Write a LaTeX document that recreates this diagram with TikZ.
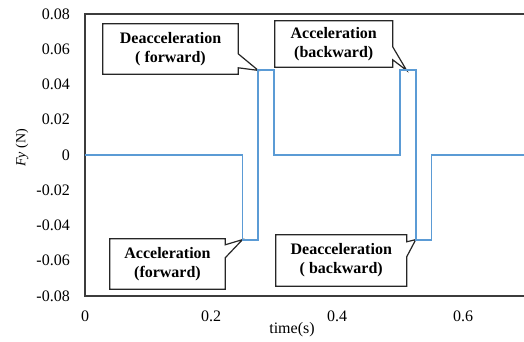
\documentclass[tikz,border=0pt]{standalone}
\usepackage{fontspec}
\setmainfont{Liberation Serif}
\usetikzlibrary{calc}
\pgfdeclarelayer{bg}
\pgfsetlayers{bg,main}
\definecolor{sig}{RGB}{91,155,213}
\definecolor{framecol}{RGB}{60,60,60}
\begin{document}
\begin{tikzpicture}[x=1pt,y=-1pt,
  ticklab/.style={font=\fontsize{16}{19}\selectfont, inner sep=0pt},
  calltext/.style={font=\fontsize{16}{19}\selectfont\bfseries, align=center, inner sep=0pt},
  callout/.style={draw=black!85, line width=1.2pt, fill=white, line join=miter},
  signal/.style={draw=sig, line width=1.8pt},
  axisline/.style={draw=framecol, line width=1.6pt}]
\useasboundingbox (0,0) rectangle (524,342);

% frame
\coordinate (tr) at (524,14);
\coordinate (tl) at (85,14);
\coordinate (bl) at (85,296);
\coordinate (br) at (524,296);
\draw[axisline] (tr) -- (tl) -- (bl) -- (br);

% y tick labels
\foreach \lab [count=\i from 0] in {0.08,0.06,0.04,0.02,0,-0.02,-0.04,-0.06,-0.08}
  \node[ticklab, anchor=east] (yt\i) at (70,14+35.25*\i) {\lab};

% x tick labels
\foreach \lab [count=\i from 0] in {0,0.2,0.4,0.6}
  \node[ticklab] (xt\i) at (85+126*\i,316) {\lab};

\node[ticklab] (xlabel) at (292,330) {time(s)};
\node[font=\fontsize{14}{17}\selectfont, inner sep=0pt, rotate=90] (ylabel) at (22,148) {\textit{Fy} (N)};

% signal in data coordinates
\begin{scope}[shift={(85,155)}, x=630pt, y=1762.5pt]
  \draw[signal] (0,0) -- (0.25,0) -- (0.25,-0.048) -- (0.275,-0.048) -- (0.275,0.048)
    -- (0.3,0.048) -- (0.3,0) -- (0.5,0) -- (0.5,0.048) -- (0.525,0.048)
    -- (0.525,-0.048) -- (0.55,-0.048) -- (0.55,0) -- (0.697,0);
  \coordinate (tip1) at (0.275,0.048);
  \coordinate (tip2) at (0.5105,0.048);
  \coordinate (tip3) at (0.25,-0.048);
  \coordinate (tip4) at (0.525,-0.048);
\end{scope}

% callout texts
\node[calltext, minimum width=135pt, minimum height=50pt] (c1) at (170.5,49) {Deacceleration\\( forward)};
\node[calltext, minimum width=117.5pt, minimum height=46pt] (c2) at (333.75,44) {Acceleration\\(backward)};
\node[calltext, minimum width=115pt, minimum height=50pt] (c3) at (167.5,264) {Acceleration\\(forward)};
\node[calltext, minimum width=130.5pt, minimum height=51pt] (c4) at (341.25,260.5) {Deacceleration\\( backward)};

% callout outlines
\begin{pgfonlayer}{bg}
\draw[callout] (c1.north west) -- (c1.north east) -- ($(c1.north east)+(0,30)$) -- (tip1)
  -- ($(c1.north east)+(0,44)$) -- (c1.south east) -- (c1.south west) -- cycle;
\draw[callout] (c2.north west) -- (c2.north east) -- ($(c2.north east)+(0,26)$) -- (tip2)
  -- ($(c2.north east)+(0,39)$) -- (c2.south east) -- (c2.south west) -- cycle;
\draw[callout] (c3.north west) -- (c3.north east) -- ($(c3.north east)+(0,6)$) -- (tip3)
  -- ($(c3.north east)+(0,19)$) -- (c3.south east) -- (c3.south west) -- cycle;
\draw[callout] (c4.north west) -- (c4.north east) -- ($(c4.north east)+(0,7)$) -- (tip4)
  -- ($(c4.north east)+(0,22)$) -- (c4.south east) -- (c4.south west) -- cycle;
\end{pgfonlayer}
\end{tikzpicture}
\end{document}
